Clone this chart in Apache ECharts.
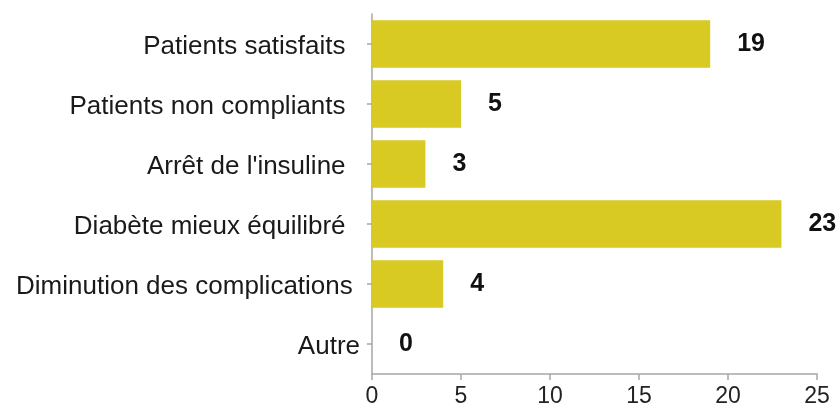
<!DOCTYPE html>
<html>
<head>
<meta charset="utf-8">
<script src="https://cdn.jsdelivr.net/npm/echarts@6/dist/echarts.min.js"></script>
<style>
  html, body { margin: 0; padding: 0; background: #ffffff; }
  #chart { width: 839px; height: 408px; }
</style>
</head>
<body>
<div id="chart"></div>
<script>
const categories = [
  "Patients satisfaits  ",
  "Patients non compliants  ",
  "Arrêt de l'insuline  ",
  "Diabète mieux équilibré  ",
  "Diminution des complications ",
  "Autre"
];
const values = [19, 5, 3, 23, 4, 0];
const xTicks = [0, 5, 10, 15, 20, 25];

const chart = echarts.init(document.getElementById('chart'), null, { renderer: 'canvas' });
chart.setOption({
  animation: false,
  backgroundColor: '#ffffff',
  grid: { left: 372, right: 22, top: 14, bottom: 32, containLabel: false },
  xAxis: {
    type: 'value',
    min: xTicks[0],
    max: xTicks[xTicks.length - 1],
    interval: 5,
    axisLine: { show: true, lineStyle: { color: '#a6a6a6', width: 1.5 } },
    axisTick: { show: true, length: 6, lineStyle: { color: '#a6a6a6', width: 1.5 } },
    splitLine: { show: false },
    axisLabel: { fontFamily: 'Liberation Sans', fontSize: 23, color: '#222', margin: 11 }
  },
  yAxis: {
    type: 'category',
    inverse: true,
    data: categories,
    axisLine: { show: true, lineStyle: { color: '#a6a6a6', width: 1.5 } },
    axisTick: { show: true, alignWithLabel: true, length: 5, lineStyle: { color: '#a6a6a6', width: 1.5 } },
    axisLabel: {
      margin: 12,
      formatter: function (v) { return '{c|' + v + '}'; },
      rich: { c: { fontFamily: 'Liberation Sans', fontSize: 26, color: '#1a1a1a', padding: [6, 0, 0, 0] } }
    }
  },
  series: [{
    type: 'bar',
    data: values,
    barWidth: '79%',
    itemStyle: { color: '#d8c923' },
    label: {
      show: true,
      position: 'right',
      distance: 27,
      fontFamily: '"Liberation Sans Narrow", "Liberation Sans", Arial',
      fontWeight: 'bold',
      fontSize: 25,
      color: '#111'
    }
  }]
});
</script>
</body>
</html>
